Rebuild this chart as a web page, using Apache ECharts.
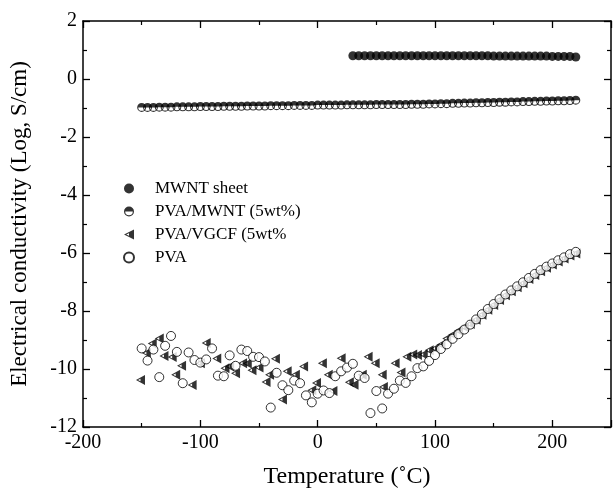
<!DOCTYPE html>
<html><head><meta charset="utf-8">
<script src="https://cdn.jsdelivr.net/npm/echarts@6/dist/echarts.min.js"></script>
<style>html,body{margin:0;padding:0;background:#fff}#c{width:616px;height:494px}</style>
</head><body><div id="c"></div>
<script>
const xTicks = [-200, -100, 0, 100, 200];
const yTicks = [-12, -10, -8, -6, -4, -2, 0, 2];
const seriesNames = ['MWNT sheet', 'PVA/MWNT (5wt%)', 'PVA/VGCF (5wt%', 'PVA'];

const sheetX = [30,35,40,45,50,55,60,65,70,75,80,85,90,95,100,105,110,115,120,125,130,135,140,145,150,155,160,165,170,175,180,185,190,195,200,205,210,215,220];
const sheetY = [0.80,0.80,0.80,0.80,0.80,0.80,0.80,0.80,0.80,0.80,0.80,0.80,0.80,0.80,0.80,0.80,0.80,0.80,0.80,0.80,0.80,0.80,0.80,0.80,0.79,0.79,0.79,0.79,0.79,0.79,0.79,0.79,0.79,0.79,0.78,0.78,0.78,0.78,0.76];

const pmX = [-150,-145,-140,-135,-130,-125,-120,-115,-110,-105,-100,-95,-90,-85,-80,-75,-70,-65,-60,-55,-50,-45,-40,-35,-30,-25,-20,-15,-10,-5,0,5,10,15,20,25,30,35,40,45,50,55,60,65,70,75,80,85,90,95,100,105,110,115,120,125,130,135,140,145,150,155,160,165,170,175,180,185,190,195,200,205,210,215,220];
const pmY = [-0.98,-0.98,-0.98,-0.97,-0.97,-0.97,-0.96,-0.96,-0.96,-0.96,-0.95,-0.95,-0.95,-0.95,-0.94,-0.94,-0.94,-0.94,-0.93,-0.93,-0.93,-0.93,-0.92,-0.92,-0.92,-0.92,-0.91,-0.91,-0.91,-0.91,-0.90,-0.90,-0.90,-0.90,-0.90,-0.89,-0.89,-0.89,-0.89,-0.89,-0.88,-0.88,-0.88,-0.88,-0.88,-0.88,-0.87,-0.87,-0.87,-0.86,-0.86,-0.85,-0.85,-0.84,-0.84,-0.83,-0.83,-0.82,-0.82,-0.81,-0.81,-0.80,-0.80,-0.79,-0.79,-0.78,-0.78,-0.77,-0.77,-0.76,-0.76,-0.75,-0.75,-0.74,-0.73];

const vgX = [-151,-146,-141,-135,-131,-124,-121,-116,-107,-100,-95,-86,-79,-75,-70,-64,-60,-56,-50,-44,-41,-36,-30,-26,-19,-12,-5,-1,4,9,13,20,27,31,38,43,49,55,56,66,71,76,81,85,90,95,100,105,110,115,120,125,130,135,140,145,150,155,160,165,170,175,180,185,190,195,200,205,210,215,220];
const vgY = [-10.38,-9.45,-9.12,-8.95,-9.55,-9.59,-10.20,-9.89,-10.55,-9.80,-9.10,-9.64,-9.97,-9.91,-10.15,-9.80,-9.81,-10.04,-9.95,-10.45,-10.20,-9.65,-11.05,-10.08,-10.20,-9.91,-10.73,-10.48,-9.80,-10.20,-10.76,-9.63,-10.46,-10.54,-10.20,-9.58,-9.80,-10.20,-10.62,-9.80,-10.12,-9.58,-9.50,-9.52,-9.50,-9.35,-9.29,-9.16,-8.95,-8.82,-8.68,-8.56,-8.45,-8.30,-8.13,-7.96,-7.79,-7.62,-7.46,-7.32,-7.18,-7.04,-6.90,-6.76,-6.63,-6.51,-6.40,-6.29,-6.19,-6.09,-6.02];

const pvaX = [-150,-145,-140,-135,-130,-125,-120,-115,-110,-105,-100,-95,-90,-85,-80,-75,-70,-65,-60,-55,-50,-45,-40,-35,-30,-25,-20,-15,-10,-5,0,5,10,15,20,25,30,35,40,45,50,55,60,65,70,75,80,85,90,95,100,105,110,115,120,125,130,135,140,145,150,155,160,165,170,175,180,185,190,195,200,205,210,215,220];
const pvaY = [-9.29,-9.71,-9.33,-10.28,-9.20,-8.86,-9.41,-10.49,-9.43,-9.69,-9.78,-9.67,-9.29,-10.23,-10.25,-9.53,-9.89,-9.33,-9.38,-9.58,-9.59,-9.74,-11.33,-10.13,-10.56,-10.73,-10.40,-10.49,-10.91,-11.15,-10.85,-10.74,-10.83,-10.25,-10.08,-9.95,-9.82,-10.23,-10.31,-11.52,-10.76,-11.36,-10.85,-10.68,-10.40,-10.48,-10.25,-9.97,-9.91,-9.72,-9.52,-9.31,-9.15,-8.96,-8.80,-8.64,-8.47,-8.29,-8.11,-7.93,-7.76,-7.59,-7.43,-7.29,-7.15,-7.01,-6.86,-6.72,-6.59,-6.47,-6.36,-6.25,-6.15,-6.04,-5.96];

const zip = (xs, ys) => xs.map((x, i) => [x, ys[i]]);
const FONT = 'Liberation Serif';
const halfCircle = 'path://M0,10A10,10,0,1,1,20,10A10,10,0,1,1,0,10ZM17.6,10L2.4,10A7.6,7.6,0,0,0,17.6,10Z';
const halfTri = 'path://M0,10L20,0L20,20ZM4.5,10L10,12.7L10,7.3Z';

const axisCommon = {
  axisLine: { show: true, onZero: false, lineStyle: { color: '#000', width: 1.5 } },
  axisTick: { show: true, inside: true, length: 7, lineStyle: { color: '#000', width: 1.3 } },
  minorTick: { show: true, splitNumber: 2, length: 4, lineStyle: { color: '#000', width: 1.2 } },
  splitLine: { show: false }
};

function xAx(pos, labels) {
  return Object.assign({}, axisCommon, {
    type: 'value', position: pos, min: -200, max: 250, interval: 100,
    name: labels ? 'Temperature (˚C)' : '', nameLocation: 'middle', nameGap: 38,
    nameTextStyle: { fontFamily: FONT, fontSize: 24, color: '#000' },
    axisLabel: { show: labels, fontFamily: FONT, fontSize: 20, color: '#000', margin: 6,
      formatter: v => xTicks.includes(v) ? String(v) : '' }
  });
}
function yAx(pos, labels) {
  return Object.assign({}, axisCommon, {
    type: 'value', position: pos, min: -12, max: 2, interval: 2,
    name: labels ? 'Electrical conductivity (Log, S/cm)' : '', nameLocation: 'middle', nameGap: 52,
    nameTextStyle: { fontFamily: FONT, fontSize: 23, color: '#000' },
    axisLabel: { show: labels, fontFamily: FONT, fontSize: 20, color: '#000', margin: 6,
      formatter: v => yTicks.includes(v) ? String(v) : '' }
  });
}

const chart = echarts.init(document.getElementById('c'), null, { renderer: 'canvas' });
chart.setOption({
  backgroundColor: '#fff',
  animation: false,
  grid: { left: 79, right: 5, top: 21, bottom: 61, containLabel: false },
  xAxis: [xAx('bottom', true), xAx('top', false)],
  yAxis: [yAx('left', true), yAx('right', false)],
  legend: {
    orient: 'vertical', left: 118, top: 175, itemWidth: 10, itemHeight: 10, itemGap: 6,
    textStyle: { fontFamily: FONT, fontSize: 17, color: '#000', padding: [0, 0, 0, 16] },
    data: [
      { name: seriesNames[0], icon: 'circle' },
      { name: seriesNames[1], icon: halfCircle },
      { name: seriesNames[2], icon: halfTri },
      { name: seriesNames[3], icon: 'circle' }
    ]
  },
  series: [
    { name: seriesNames[0], type: 'scatter', symbol: 'circle', symbolSize: 9,
      itemStyle: { color: '#000' }, data: zip(sheetX, sheetY) },
    { name: seriesNames[1], type: 'scatter', symbol: halfCircle, symbolSize: 9,
      itemStyle: { color: '#000' }, data: zip(pmX, pmY) },
    { name: seriesNames[2], type: 'scatter', symbol: halfTri, symbolSize: [9, 10],
      itemStyle: { color: '#000' }, data: zip(vgX, vgY) },
    { name: seriesNames[3], type: 'scatter', symbol: 'circle', symbolSize: 9,
      itemStyle: { color: '#fff', borderColor: '#000', borderWidth: 1 }, data: zip(pvaX, pvaY) }
  ]
});
</script></body></html>
